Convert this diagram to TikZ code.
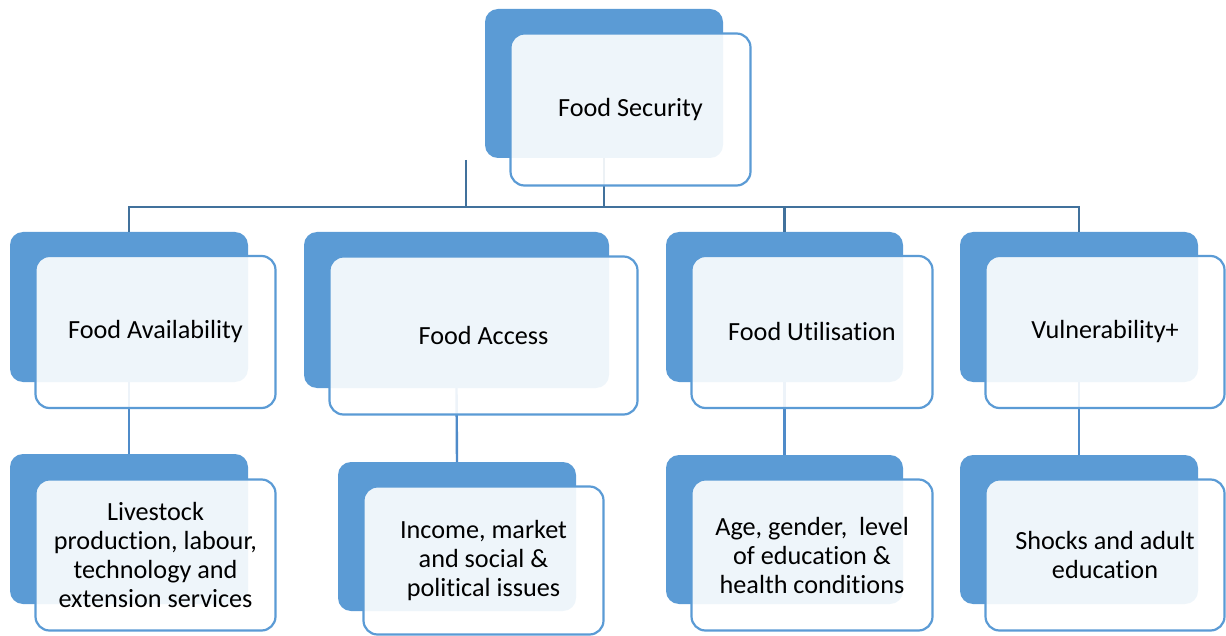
\documentclass[tikz,border=0pt]{standalone}
\usepackage{fontspec}
\setmainfont[Ligatures={NoCommon}]{Carlito}
\definecolor{boxblue}{HTML}{5B9BD5}
\definecolor{linkdark}{HTML}{41719C}
\definecolor{linklight}{HTML}{4F8BC9}
\begin{document}
\begin{tikzpicture}[x=1pt,y=-1pt,
  backbox/.style={fill=boxblue, rounded corners=13pt, inner sep=0pt, outer sep=0pt},
  frontbox/.style={draw=boxblue, line width=2.2pt, fill=white, fill opacity=0.9,
    draw opacity=1, text opacity=1, rounded corners=14pt, inner sep=0pt, outer sep=0pt,
    align=center, text=black, font=\fontsize{26.2}{29}\selectfont},
  toplink/.style={draw=linkdark, line width=2.4pt},
  sublink/.style={draw=linklight, line width=2.4pt}]
\useasboundingbox (0,0) rectangle (1226,636);

% back panels
\node[backbox, minimum width=238pt, minimum height=149pt] (secB) at (604,83.5) {};
\node[backbox, minimum width=238pt, minimum height=150pt] (faB) at (129,307) {};
\node[backbox, minimum width=305pt, minimum height=156pt] (acB) at (456.5,310) {};
\node[backbox, minimum width=237pt, minimum height=150pt] (utB) at (784.5,307) {};
\node[backbox, minimum width=238pt, minimum height=150pt] (vuB) at (1079,307) {};
\node[backbox, minimum width=238pt, minimum height=150pt] (lvB) at (129,529) {};
\node[backbox, minimum width=238pt, minimum height=149pt] (inB) at (457,536.5) {};
\node[backbox, minimum width=237pt, minimum height=149pt] (agB) at (784.5,529.5) {};
\node[backbox, minimum width=238pt, minimum height=149pt] (shB) at (1079,529.5) {};

% connectors (drawn below the translucent front panels)
\coordinate (bus) at (604,207);
\coordinate (stubtop) at (466,160);
\draw[toplink] (secB.south) -- (bus);
\draw[toplink] (faB.north) -- (faB.north |- bus) -- (vuB.north |- bus) -- (vuB.north);
\draw[toplink] (utB.north |- bus) -- (utB.north);
\draw[toplink] (stubtop) -- (stubtop |- bus);
\draw[sublink] (faB.south) -- (lvB.north);
\draw[sublink] (acB.south) -- (inB.north);
\draw[sublink] (utB.south) -- (agB.north);
\draw[sublink] (vuB.south) -- (shB.north);

% front panels with labels
\node[frontbox, minimum width=240pt, minimum height=152pt] (sec) at (630.5,109.5) {Food Security};
\node[frontbox, minimum width=240pt, minimum height=152pt] (fa) at (155.5,332) {Food Availability};
\node[frontbox, minimum width=308pt, minimum height=158pt] (ac) at (483.5,335.5) {Food Access};
\node[frontbox, minimum width=241pt, minimum height=152pt] (ut) at (812,332) {Food Utilisation};
\node[frontbox, minimum width=239pt, minimum height=152pt] (vu) at (1105,332) {Vulnerability+};
\node[frontbox, minimum width=240pt, minimum height=151pt] (lv) at (155.5,555) {Livestock\\production, labour,\\technology and\\extension services};
\node[frontbox, minimum width=240pt, minimum height=148pt] (in) at (483.5,560.5) {Income, market\\and social \&\\political issues};
\node[frontbox, minimum width=241pt, minimum height=151pt] (ag) at (812,555) {Age, gender,\ \ level\\of education \&\\health conditions};
\node[frontbox, minimum width=239pt, minimum height=151pt] (sh) at (1105,555) {Shocks and adult\\education};
\end{tikzpicture}
\end{document}
